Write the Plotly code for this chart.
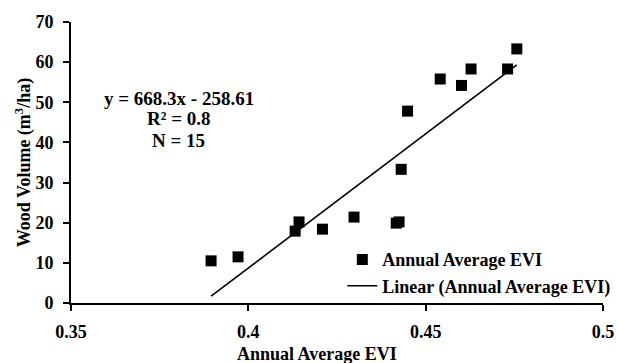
import plotly.graph_objects as go

# Data
evi = [0.3895, 0.3971, 0.4132, 0.4143, 0.4209, 0.4298, 0.4417, 0.4425,
       0.4431, 0.4449, 0.4541, 0.4601, 0.4628, 0.4731, 0.4757]
wood_volume = [10.5, 11.5, 17.9, 20.2, 18.4, 21.4, 19.9, 20.2,
               33.3, 47.8, 55.8, 54.2, 58.3, 58.3, 63.3]
slope = 668.3
intercept = -258.61
x_ticks = [0.35, 0.4, 0.45, 0.5]
x_tick_labels = ["0.35", "0.4", "0.45", "0.5"]
y_ticks = [0, 10, 20, 30, 40, 50, 60, 70]
y_tick_labels = ["0", "10", "20", "30", "40", "50", "60", "70"]
stats_lines = ["y = 668.3x - 258.61", "R² = 0.8", "N = 15"]

trend_x = [min(evi), max(evi)]
trend_y = [slope * v + intercept for v in trend_x]

FONT = "Liberation Serif, Times New Roman, serif"

fig = go.Figure()
fig.add_trace(go.Scatter(
    x=evi, y=wood_volume, mode="markers", name="<b>Annual Average EVI</b>",
    marker=dict(symbol="square", size=11, color="black"),
))
fig.add_trace(go.Scatter(
    x=trend_x, y=trend_y, mode="lines", name="<b>Linear (Annual Average EVI)</b>",
    line=dict(color="black", width=1.6),
))

stat_y = [0.7294, 0.6582, 0.5800]
annotations = [
    dict(text="<b>%s</b>" % s, xref="paper", yref="paper", x=0.203, y=yy,
         xanchor="center", yanchor="middle", showarrow=False,
         font=dict(size=19))
    for s, yy in zip(stats_lines, stat_y)
]
annotations.append(
    dict(text="<b>Annual Average EVI</b>", xref="paper", yref="paper",
         x=0.462, y=-0.183, xanchor="center", yanchor="middle",
         showarrow=False, font=dict(size=18)))

fig.update_layout(
    width=617, height=363,
    margin=dict(l=71, r=14, t=22, b=60, autoexpand=False),
    paper_bgcolor="white", plot_bgcolor="white",
    font=dict(family=FONT, size=18, color="black"),
    showlegend=True,
    legend=dict(x=0.51, y=0.22, xanchor="left", yanchor="top",
                bgcolor="rgba(0,0,0,0)", font=dict(size=18),
                tracegroupgap=0, itemwidth=30),
    xaxis=dict(range=[0.35, 0.5], tickvals=x_ticks,
               ticktext=["<b>%s</b>" % t for t in x_tick_labels],
               showgrid=False, zeroline=False, showline=True, linecolor="black",
               linewidth=2, ticks="outside", ticklen=6, tickwidth=2,
               tickcolor="black", ticklabelstandoff=5, automargin=False),
    yaxis=dict(range=[0, 70], tickvals=y_ticks,
               ticktext=["<b>%s</b>" % t for t in y_tick_labels],
               showgrid=False, zeroline=False,
               showline=True, linecolor="black", linewidth=2, ticks="outside",
               ticklen=6, tickwidth=2, tickcolor="black", ticklabelstandoff=6,
               automargin=False,
               title=dict(text="<b>Wood Volume (m<sup>3</sup>/ha)</b>",
                          font=dict(size=18), standoff=0)),
    annotations=annotations,
)

fig.write_html("out.html", config={"displayModeBar": False},
               post_script="document.body.style.margin='0';")
